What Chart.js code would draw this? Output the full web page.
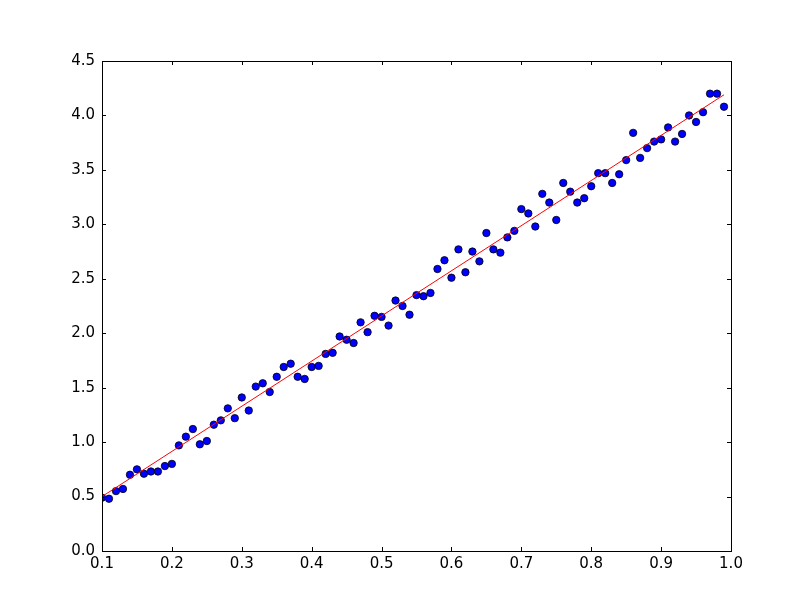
<!DOCTYPE html>
<html>
<head>
<meta charset="utf-8">
<script src="https://cdn.jsdelivr.net/npm/chart.js@4/dist/chart.umd.min.js"></script>
<style>
  html, body { margin: 0; padding: 0; background: #fff; }
  #wrap { width: 812px; height: 612px; }
</style>
</head>
<body>
<div id="wrap"><canvas id="myChart"></canvas></div>
<script>
const xs = [0.10,0.11,0.12,0.13,0.14,0.15,0.16,0.17,0.18,0.19,
            0.20,0.21,0.22,0.23,0.24,0.25,0.26,0.27,0.28,0.29,
            0.30,0.31,0.32,0.33,0.34,0.35,0.36,0.37,0.38,0.39,
            0.40,0.41,0.42,0.43,0.44,0.45,0.46,0.47,0.48,0.49,
            0.50,0.51,0.52,0.53,0.54,0.55,0.56,0.57,0.58,0.59,
            0.60,0.61,0.62,0.63,0.64,0.65,0.66,0.67,0.68,0.69,
            0.70,0.71,0.72,0.73,0.74,0.75,0.76,0.77,0.78,0.79,
            0.80,0.81,0.82,0.83,0.84,0.85,0.86,0.87,0.88,0.89,
            0.90,0.91,0.92,0.93,0.94,0.95,0.96,0.97,0.98,0.99];
const ys = [0.49,0.48,0.55,0.57,0.70,0.75,0.71,0.73,0.73,0.78,
            0.80,0.97,1.05,1.12,0.98,1.01,1.16,1.20,1.31,1.22,
            1.41,1.29,1.51,1.54,1.46,1.60,1.69,1.72,1.60,1.58,
            1.69,1.70,1.81,1.82,1.97,1.94,1.91,2.10,2.01,2.16,
            2.15,2.07,2.30,2.25,2.17,2.35,2.34,2.37,2.59,2.67,
            2.51,2.77,2.56,2.75,2.66,2.92,2.77,2.74,2.88,2.94,
            3.14,3.10,2.98,3.28,3.20,3.04,3.38,3.30,3.20,3.24,
            3.35,3.47,3.47,3.38,3.46,3.59,3.84,3.61,3.70,3.76,
            3.78,3.89,3.76,3.83,4.00,3.94,4.03,4.20,4.20,4.08];
// fitted line end points
const fitX = [0.10, 0.99];
const fitY = [0.50, 4.19];

const xTicks = [0.1,0.2,0.3,0.4,0.5,0.6,0.7,0.8,0.9,1.0];
const yTicks = [0.0,0.5,1.0,1.5,2.0,2.5,3.0,3.5,4.0,4.5];

const points = xs.map((x, i) => ({x: x, y: ys[i]}));
const fitLine = fitX.map((x, i) => ({x: x, y: fitY[i]}));

// inward tick marks on all four sides + full frame, like classic matplotlib
const frameTicks = {
  id: 'frameTicks',
  afterDraw(chart) {
    const ctx = chart.ctx;
    const a = chart.chartArea;
    const sx = chart.scales.x, sy = chart.scales.y;
    const len = 4;
    ctx.save();
    ctx.strokeStyle = '#000';
    ctx.lineWidth = 1;
    ctx.beginPath();
    xTicks.forEach(v => {
      const px = Math.round(sx.getPixelForValue(v)) + 0.5;
      ctx.moveTo(px, a.bottom); ctx.lineTo(px, a.bottom - len);
      ctx.moveTo(px, a.top); ctx.lineTo(px, a.top + len);
    });
    yTicks.forEach(v => {
      const py = Math.round(sy.getPixelForValue(v)) + 0.5;
      ctx.moveTo(a.left, py); ctx.lineTo(a.left + len, py);
      ctx.moveTo(a.right, py); ctx.lineTo(a.right - len, py);
    });
    ctx.stroke();
    ctx.strokeRect(Math.round(a.left) + 0.5, Math.round(a.top) + 0.5,
                   Math.round(a.right - a.left), Math.round(a.bottom - a.top));
    ctx.restore();
  }
};

const ctx = document.getElementById('myChart');
new Chart(ctx, {
  type: 'scatter',
  data: {
    datasets: [{
      type: 'line',
      data: fitLine,
      borderColor: '#ff0000',
      borderWidth: 1,
      pointRadius: 0,
      fill: false,
      order: 0
    }, {
      data: points,
      backgroundColor: '#0000ff',
      borderColor: '#000000',
      borderWidth: 0.8,
      pointRadius: 3.7,
      order: 1
    }]
  },
  options: {
    responsive: true,
    maintainAspectRatio: false,
    animation: false,
    layout: { padding: { top: 61, right: 81, left: 0, bottom: 0 } },
    plugins: { legend: { display: false }, tooltip: { enabled: false } },
    scales: {
      x: {
        type: 'linear',
        min: 0.1,
        max: 1.0,
        grid: { display: false, drawTicks: false },
        border: { display: false },
        afterFit: s => { s.height = 61; },
        afterBuildTicks: s => { s.ticks = xTicks.map(v => ({value: v})); },
        ticks: {
          color: '#000',
          padding: 4,
          maxRotation: 0,
          font: { family: 'DejaVu Sans', size: 15 },
          callback: v => v.toFixed(1)
        }
      },
      y: {
        min: 0,
        max: 4.5,
        grid: { display: false, drawTicks: false },
        border: { display: false },
        afterFit: s => { s.width = 102; },
        afterBuildTicks: s => { s.ticks = yTicks.map(v => ({value: v})); },
        ticks: {
          color: '#000',
          padding: 7,
          font: { family: 'DejaVu Sans', size: 15 },
          callback: v => v.toFixed(1)
        }
      }
    }
  },
  plugins: [frameTicks]
});
</script>
</body>
</html>
